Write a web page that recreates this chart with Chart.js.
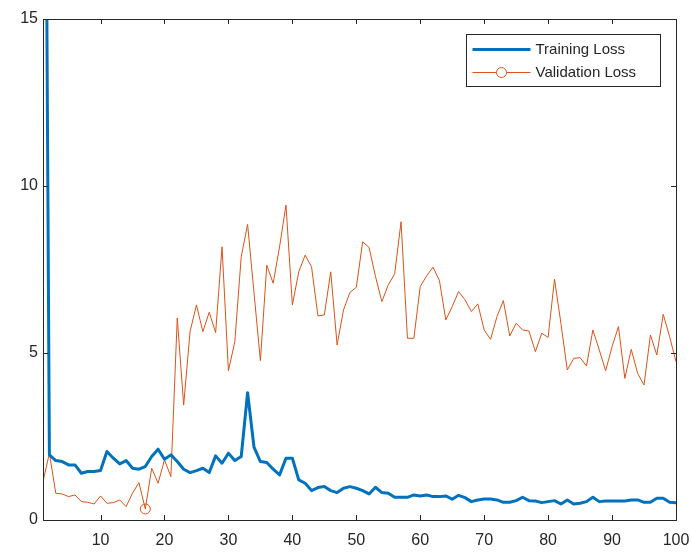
<!DOCTYPE html>
<html>
<head>
<meta charset="utf-8">
<script src="https://cdn.jsdelivr.net/npm/chart.js@4/dist/chart.umd.min.js"></script>
<style>
  html, body { margin: 0; padding: 0; background: #fff; }
  #wrap { width: 691px; height: 552px; }
</style>
</head>
<body>
<div id="wrap"><canvas id="lossChart"></canvas></div>
<script>
// values, epoch 1..100
const trainingLoss = [
  35, 1.95, 1.78, 1.75, 1.65, 1.65, 1.4, 1.45, 1.45, 1.48,
  2.05, 1.85, 1.68, 1.78, 1.55, 1.52, 1.6, 1.9, 2.12, 1.82,
  1.95, 1.75, 1.52, 1.42, 1.48, 1.55, 1.42, 1.92, 1.7, 2.0,
  1.78, 1.9, 3.81, 2.18, 1.75, 1.72, 1.52, 1.35, 1.85, 1.85,
  1.2, 1.1, 0.88, 0.97, 1.0, 0.88, 0.82, 0.95, 1.0, 0.95,
  0.88, 0.78, 0.98, 0.82, 0.8, 0.68, 0.68, 0.68, 0.75, 0.72,
  0.75, 0.7, 0.7, 0.72, 0.62, 0.74, 0.67, 0.55, 0.6, 0.63,
  0.63, 0.6, 0.53, 0.53, 0.58, 0.68, 0.58, 0.57, 0.52, 0.55,
  0.58, 0.48, 0.6, 0.48, 0.5, 0.55, 0.68, 0.55, 0.57, 0.57,
  0.57, 0.57, 0.6, 0.6, 0.53, 0.53, 0.65, 0.65, 0.53, 0.52
];
const validationLoss = [
  1.15, 2.0, 0.8, 0.78, 0.7, 0.75, 0.55, 0.53, 0.48, 0.72,
  0.5, 0.52, 0.6, 0.4, 0.8, 1.12, 0.33, 1.55, 1.1, 1.8,
  1.3, 6.05, 3.44, 5.64, 6.44, 5.64, 6.22, 5.61, 8.18, 4.47,
  5.34, 7.88, 8.85, 6.8, 4.77, 7.63, 7.09, 8.18, 9.43, 6.44,
  7.43, 7.93, 7.58, 6.11, 6.14, 7.43, 5.24, 6.29, 6.81, 6.97,
  8.33, 8.16, 7.29, 6.54, 7.04, 7.37, 8.93, 5.44, 5.44, 6.99,
  7.31, 7.57, 7.17, 5.99, 6.39, 6.84, 6.59, 6.24, 6.47, 5.69,
  5.41, 6.09, 6.57, 5.51, 5.89, 5.69, 5.66, 5.04, 5.59, 5.47,
  7.21, 5.89, 4.49, 4.84, 4.86, 4.61, 5.69, 5.09, 4.47, 5.19,
  5.79, 4.24, 5.11, 4.39, 4.04, 5.54, 4.94, 6.16, 5.49, 4.74
];
const bestEpoch = 17;
const xTicks = [10, 20, 30, 40, 50, 60, 70, 80, 90, 100];
const yTicks = [0, 5, 10, 15];

const epochs = trainingLoss.map((v, i) => i + 1);
const axisColor = '#262626';

// MATLAB style box with inward tick marks + legend inside the axes
const matlabBox = {
  id: 'matlabBox',
  afterDatasetsDraw(chart) {
    const ctx = chart.ctx;
    const a = chart.chartArea;
    const xs = chart.scales.x, ys = chart.scales.y;
    const tl = 5;
    ctx.save();
    ctx.strokeStyle = axisColor;
    ctx.lineWidth = 1;
    ctx.strokeRect(Math.round(a.left) + 0.5, Math.round(a.top) + 0.5,
      Math.round(a.right - a.left), Math.round(a.bottom - a.top));
    ctx.beginPath();
    xTicks.forEach(v => {
      const px = Math.round(xs.getPixelForValue(v)) + 0.5;
      ctx.moveTo(px, a.bottom); ctx.lineTo(px, a.bottom - tl);
      ctx.moveTo(px, a.top); ctx.lineTo(px, a.top + tl);
    });
    yTicks.forEach(v => {
      const py = Math.round(ys.getPixelForValue(v)) + 0.5;
      ctx.moveTo(a.left, py); ctx.lineTo(a.left + tl, py);
      ctx.moveTo(a.right, py); ctx.lineTo(a.right - tl, py);
    });
    ctx.stroke();

    // legend
    const bx = 466.5, by = 34.5, bw = 194, bh = 52;
    ctx.fillStyle = '#fff';
    ctx.fillRect(bx, by, bw, bh);
    ctx.strokeStyle = axisColor;
    ctx.strokeRect(bx, by, bw, bh);
    ctx.font = '15px "Liberation Sans", Arial, sans-serif';
    ctx.textBaseline = 'middle';
    ctx.textAlign = 'left';
    const rows = [by + 15, by + 38];
    chart.data.datasets.forEach((ds, i) => {
      const y = rows[i];
      ctx.strokeStyle = ds.borderColor;
      ctx.lineWidth = ds.borderWidth;
      ctx.beginPath();
      ctx.moveTo(bx + 6, y); ctx.lineTo(bx + 64, y);
      ctx.stroke();
      if (i === 1) {
        ctx.beginPath();
        ctx.arc(bx + 35, y, 5, 0, Math.PI * 2);
        ctx.fillStyle = '#fff';
        ctx.fill();
        ctx.stroke();
      }
      ctx.fillStyle = axisColor;
      ctx.fillText(ds.label, bx + 69, y);
    });
    ctx.restore();
  }
};

new Chart(document.getElementById('lossChart').getContext('2d'), {
  type: 'line',
  data: {
    labels: epochs,
    datasets: [
      {
        label: 'Training Loss',
        data: epochs.map((e, i) => ({ x: e, y: trainingLoss[i] })),
        borderColor: '#0072BD',
        borderWidth: 3,
        borderJoinStyle: 'round',
        borderCapStyle: 'round',
        pointRadius: 0,
        tension: 0,
        clip: 0
      },
      {
        label: 'Validation Loss',
        data: epochs.map((e, i) => ({ x: e, y: validationLoss[i] })),
        borderColor: '#D95319',
        borderWidth: 1,
        borderJoinStyle: 'round',
        pointRadius: epochs.map(e => e === bestEpoch ? 5 : 0),
        pointBorderWidth: 1,
        pointBackgroundColor: 'rgba(0,0,0,0)',
        pointBorderColor: '#D95319',
        tension: 0,
        clip: 0
      }
    ]
  },
  options: {
    responsive: true,
    maintainAspectRatio: false,
    animation: false,
    layout: { padding: { left: 0, top: 19, right: 15, bottom: 0 } },
    scales: {
      x: {
        type: 'linear',
        min: 1,
        max: 100,
        afterBuildTicks: s => { s.ticks = xTicks.map(v => ({ value: v })); },
        afterFit: s => { s.height = 32; s.paddingLeft = 0; s.paddingRight = 0; },
        grid: { display: false, drawTicks: false },
        border: { display: false },
        ticks: {
          autoSkip: false,
          maxRotation: 0,
          padding: 11,
          color: axisColor,
          font: { family: '"Liberation Sans", Arial, sans-serif', size: 16 }
        }
      },
      y: {
        min: 0,
        max: 15,
        afterBuildTicks: s => { s.ticks = yTicks.map(v => ({ value: v })); },
        afterFit: s => { s.width = 43; s.paddingTop = 0; s.paddingBottom = 0; },
        grid: { display: false, drawTicks: false },
        border: { display: false },
        ticks: {
          padding: 5,
          color: axisColor,
          font: { family: '"Liberation Sans", Arial, sans-serif', size: 16 }
        }
      }
    },
    plugins: {
      legend: { display: false },
      tooltip: { enabled: false }
    }
  },
  plugins: [matlabBox]
});
</script>
</body>
</html>
